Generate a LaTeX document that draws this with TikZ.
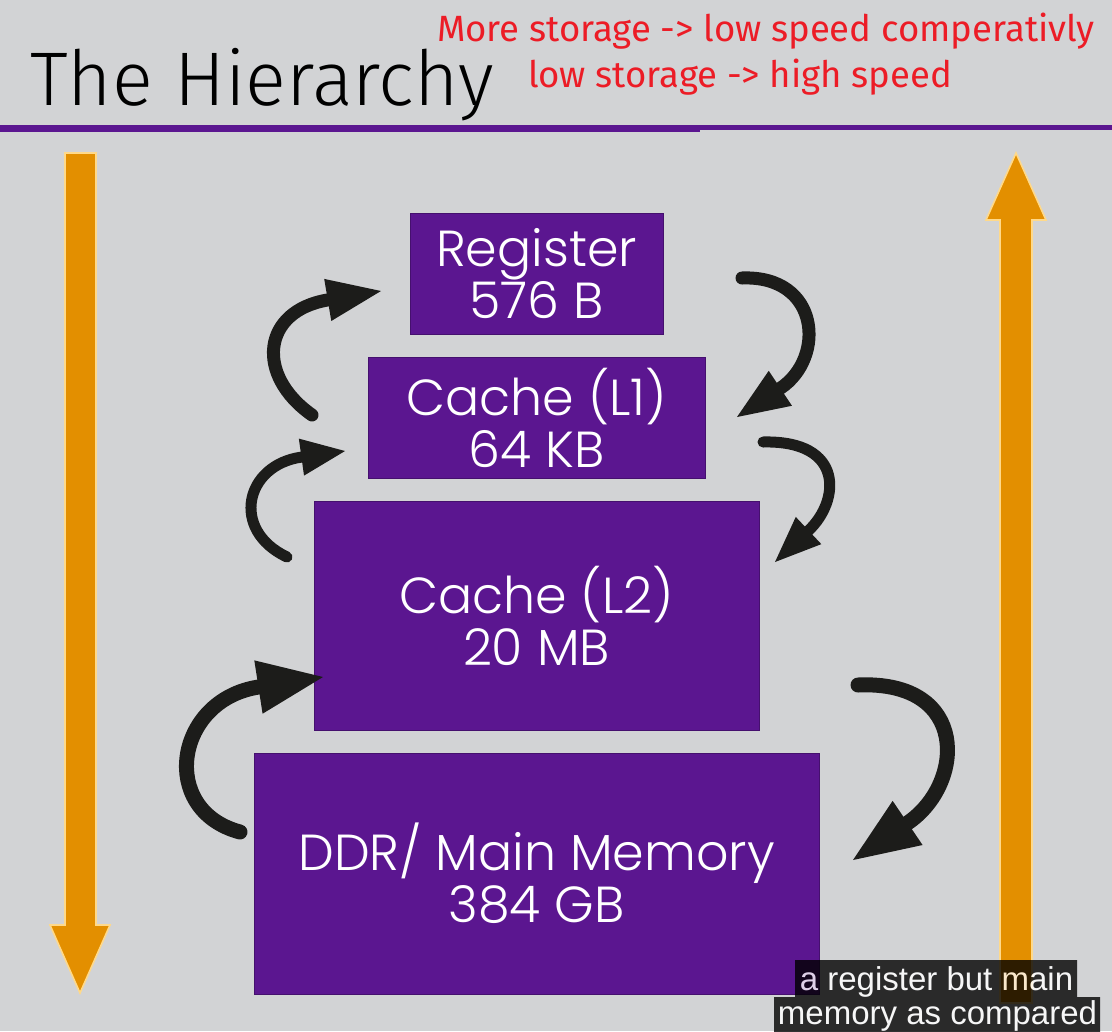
\documentclass[tikz,border=0pt]{standalone}
\usepackage{fontspec}
\usetikzlibrary{arrows.meta}
\newfontfamily\titlefont{Fira Sans Light}
\newfontfamily\notefont{Fira Sans}
\newfontfamily\boxfont{Poppins Light}
\newfontfamily\capfont{Liberation Sans}
\definecolor{bg}{HTML}{D2D3D5}
\definecolor{plum}{HTML}{5B1690}
\definecolor{plumedge}{HTML}{45106E}
\definecolor{amber}{HTML}{E38F00}
\definecolor{amberedge}{HTML}{FFD98A}
\definecolor{notered}{HTML}{EC1C26}
\definecolor{ink}{HTML}{1C1C1A}
\tikzset{
  level/.style={fill=plum, draw=plumedge, line width=0.75pt, text=white,
    align=center, inner sep=0pt,
    font=\boxfont\fontsize{38}{39}\selectfont},
  bigarrow/.style={fill=amber, draw=amberedge, line width=1.2pt, line join=miter},
  curl/.style={draw=ink, line width=#1, line cap=round},
  capbox/.style={fill=black, inner sep=0pt},
  captext/.style={text=white, inner sep=0pt, anchor=base,
    font=\capfont\fontsize{24.75}{24.75}\selectfont},
  note/.style={anchor=base, inner sep=0pt, text=notered,
    font=\notefont\fontsize{27.4}{27.4}\selectfont},
}
\begin{document}
\begin{tikzpicture}[x=0.75pt,y=-0.75pt]
\useasboundingbox (0,0) rectangle (1112,1031);
\fill[bg] (0,0) rectangle (1112,1031);

% heading and notes
\node[anchor=base west, inner sep=0pt, font=\titlefont\fontsize{57}{57}\selectfont] (title) at (30,105) {The Hierarchy};
\node[note] (note1) at (766,41) {More storage -> low speed comperativly};
\node[note] (note2) at (740,88) {low storage -> high speed};

% rule under the heading
\fill[plum] (0,125) rectangle (700,132);
\fill[plum] (700,125) rectangle (1112,130);

% speed / size arrows
\path[bigarrow] (65,153) -- (96,153) -- (96,925) -- (110,925) -- (80,993) -- (50,925) -- (65,925) -- cycle;
\path[bigarrow] (1016,153) -- (1046,220) -- (1032,220) -- (1032,1003) -- (1000,1003) -- (1000,220) -- (986,220) -- cycle;

% memory levels
\node[level, minimum width=189.75pt, minimum height=90.75pt] (reg) at (536.5,273.5) {Register\\576 B};
\node[level, minimum width=252.75pt, minimum height=90.75pt] (l1) at (536.5,417.5) {Cache (L1)\\64 KB};
\node[level, minimum width=333.75pt, minimum height=171.75pt] (l2) at (536.5,615.5) {Cache (L2)\\20 MB};
\node[level, minimum width=423.75pt, minimum height=180.75pt] (ddr) at (536.5,873.5) {DDR/ Main Memory\\384 GB};

% curved transfer arrows
\coordinate (l1up) at (312,415);
\coordinate (regin) at (381,291);
\coordinate (l2up) at (287,557);
\coordinate (l1in) at (345,451);
\coordinate (ddrup) at (240,832);
\coordinate (l2in) at (323,677);
\coordinate (regdown) at (742,278);
\coordinate (l1back) at (737,417);
\coordinate (l1down) at (763,442);
\coordinate (l2back) at (775,562);
\coordinate (l2down) at (858,685);
\coordinate (ddrback) at (853,860);

\draw[curl=9.75pt, -{Triangle[length=40.5pt, width=32pt, line width=0pt]}]
  (l1up) .. controls (255,375) and (262,311) .. (regin);
\draw[curl=8.25pt, -{Triangle[length=33pt, width=28pt, line width=0pt]}]
  (l2up) .. controls (230,530) and (245,465) .. (l1in);
\draw[curl=11.25pt, -{Triangle[length=49pt, width=40.5pt, line width=0pt]}]
  (ddrup) .. controls (158,810) and (175,700) .. (l2in);
\draw[curl=9.75pt, -{Triangle[length=39pt, width=31.5pt, line width=0pt]}]
  (regdown) .. controls (820,275) and (826,358) .. (l1back);
\draw[curl=8.25pt, -{Triangle[length=34.5pt, width=28pt, line width=0pt]}]
  (l1down) .. controls (845,440) and (840,501) .. (l2back);
\draw[curl=11.25pt, -{Triangle[length=49.5pt, width=40pt, line width=0pt]}]
  (l2down) .. controls (970,680) and (965,784) .. (ddrback);

% subtitle strip
\begin{scope}[transparency group, opacity=0.8]
  \node[capbox, minimum width=211.5pt, minimum height=27.75pt] (cap1) at (936,978.5) {};
  \node[capbox, minimum width=244.5pt, minimum height=27pt] (cap2) at (937,1015) {};
  \node[captext] (cap1t) at (936.5,990) {a register but main};
  \node[captext] (cap2t) at (937.5,1024) {memory as compared};
\end{scope}
\end{tikzpicture}
\end{document}
